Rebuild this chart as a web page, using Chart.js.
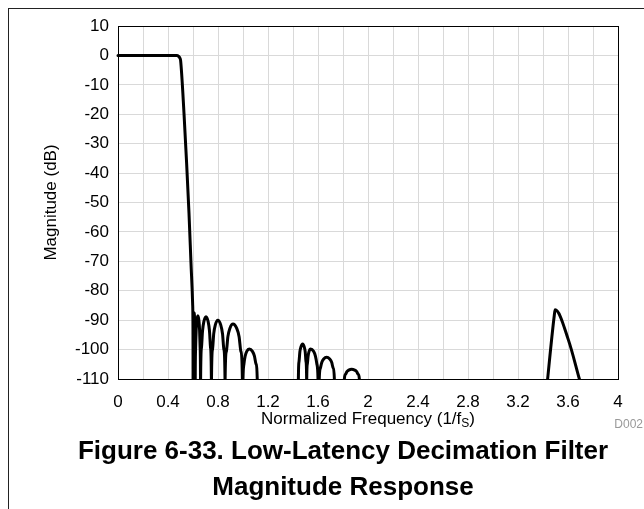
<!DOCTYPE html>
<html>
<head>
<meta charset="utf-8">
<script src="https://cdn.jsdelivr.net/npm/chart.js@4.4.0/dist/chart.umd.min.js"></script>
<style>
  html, body { margin: 0; padding: 0; background: #fff; }
  #wrap { position: relative; width: 644px; height: 509px; overflow: hidden; }
  #frame { position: absolute; left: 8px; top: 8px; width: 700px; height: 600px;
           border-top: 1px solid #222; border-left: 1px solid #222; }
  #canvas { position: absolute; left: 0; top: 0; }
</style>
</head>
<body>
<div id="wrap">
  <div id="frame"></div>
  <canvas id="canvas" width="644" height="509"></canvas>
</div>
<script>
// normalized frequency (1/fS) and magnitude (dB); values below -110 fall off the plot
let passFreq = [0, 0.2, 0.47, 0.485, 0.495, 0.501, 0.528, 0.549, 0.568, 0.584, 0.597, 0.600, 0.6012];
let passMag  = [0, 0, 0, -0.3, -0.9, -1.8, -19.7, -36.7, -53.7, -70.7, -84.3, -95, -130];

let lobeFreq1 = [0.602, 0.604, 0.609, 0.614, 0.616, 0.617,
  0.618, 0.6212, 0.6254, 0.6306, 0.639, 0.6474, 0.6527, 0.6569, 0.660, 0.6605,
  0.661, 0.6675, 0.6761, 0.6868, 0.704, 0.7212, 0.732, 0.7406, 0.747, 0.7475,
  0.748, 0.7557, 0.7659, 0.7786, 0.799, 0.8218, 0.8361, 0.8475, 0.856, 0.8565,
  0.857, 0.8665, 0.8791, 0.8948, 0.920, 0.950, 0.9688, 0.9838, 0.995, 0.9955,
  1.000, 1.0075, 1.0175, 1.030, 1.050, 1.0756, 1.0916, 1.1044, 1.114, 1.115];
let lobeMag1 = [-110, -94, -87.5, -94, -110, -130,
  -110, -99.3, -93.4, -90.2, -88.5, -90.2, -93.4, -99.3, -110, -130,
  -110, -99.4, -93.7, -90.5, -88.8, -90.5, -93.7, -99.4, -110, -130,
  -110, -100, -94.6, -91.6, -90, -91.6, -94.6, -100, -110, -130,
  -110, -100.7, -95.6, -92.8, -91.3, -92.8, -95.6, -100.7, -110, -130,
  -110, -104.9, -102.2, -100.6, -99.8, -100.6, -102.2, -104.9, -110, -130];

let lobeFreq2 = [1.442,
  1.443, 1.4481, 1.4549, 1.4634, 1.477, 1.4898, 1.4978, 1.5042, 1.509, 1.5095,
  1.510, 1.5147, 1.5209, 1.5286, 1.541, 1.5646, 1.5794, 1.591, 1.600, 1.605,
  1.610, 1.6189, 1.6307, 1.6454, 1.669, 1.6938, 1.7093, 1.7217, 1.731, 1.732,
  1.810,
  1.811, 1.8197, 1.8313, 1.8458, 1.869, 1.8938, 1.9093, 1.9217, 1.931, 1.932];
let lobeMag2 = [-130,
  -110, -104.1, -100.8, -99.1, -98.1, -99.1, -100.8, -104.1, -110, -130,
  -110, -104.9, -102.2, -100.6, -99.8, -100.6, -102.2, -104.9, -110, -130,
  -110, -106.3, -104.3, -103.2, -102.6, -103.2, -104.3, -106.3, -110, -130,
  -130,
  -110, -108.4, -107.5, -107.0, -106.7, -107.0, -107.5, -108.4, -110, -130];

let imageFreq = [3.40, 3.425, 3.437, 3.49, 3.497, 3.603, 3.691, 3.72, 3.80, 4];
let imageMag  = [-130, -115.3, -110, -88.5, -86.5, -96.7, -110, -114.4, -130, -130];

let xTickLabels = ['0', '0.4', '0.8', '1.2', '1.6', '2', '2.4', '2.8', '3.2', '3.6', '4'];

let allFreq = passFreq.concat(lobeFreq1, lobeFreq2, imageFreq);
let allMag = passMag.concat(lobeMag1, lobeMag2, imageMag);
let points = allFreq.map((f, i) => ({x: f, y: allMag[i]}));

const FONT = '"Liberation Sans", Arial, sans-serif';
Chart.defaults.font.family = FONT;
Chart.defaults.color = '#000';

const extras = {
  id: 'extras',
  afterDraw(chart) {
    const ctx = chart.ctx;
    const a = chart.chartArea;
    ctx.save();
    // plot box
    ctx.strokeStyle = '#000';
    ctx.lineWidth = 1;
    ctx.strokeRect(Math.round(a.left) + 0.5, Math.round(a.top) + 0.5,
      Math.round(a.right - a.left), Math.round(a.bottom - a.top));

    // x axis title with subscript
    const cx = (a.left + a.right) / 2;
    const ty = 419;
    const main = 'Normalized Frequency (1/f';
    ctx.font = '17px ' + FONT;
    const w1 = ctx.measureText(main).width;
    const w3 = ctx.measureText(')').width;
    ctx.font = '12px ' + FONT;
    const w2 = ctx.measureText('S').width;
    let x0 = cx - (w1 + w2 + w3) / 2;
    ctx.fillStyle = '#000';
    ctx.textBaseline = 'middle';
    ctx.textAlign = 'left';
    ctx.font = '17px ' + FONT;
    ctx.fillText(main, x0, ty);
    ctx.font = '12px ' + FONT;
    ctx.fillText('S', x0 + w1, ty + 5);
    ctx.font = '17px ' + FONT;
    ctx.fillText(')', x0 + w1 + w2, ty);

    // figure id
    ctx.fillStyle = '#999';
    ctx.font = '12px ' + FONT;
    ctx.textAlign = 'right';
    ctx.fillText('D002', 643, 425);

    // caption
    ctx.fillStyle = '#000';
    ctx.textAlign = 'center';
    ctx.font = 'bold 26px ' + FONT;
    ctx.fillText('Figure 6-33. Low-Latency Decimation Filter', 343, 452);
    ctx.fillText('Magnitude Response', 343, 488);
    ctx.restore();
  }
};

let ctx = document.getElementById('canvas').getContext('2d');
new Chart(ctx, {
  type: 'scatter',
  data: {
    datasets: [{
      data: points,
      showLine: true,
      borderColor: '#000',
      borderWidth: 3,
      pointRadius: 0,
      pointHoverRadius: 0,
      cubicInterpolationMode: 'monotone',
      borderJoinStyle: 'round',
      borderCapStyle: 'round',
      clip: {left: 2, top: 2, right: 2, bottom: 0}
    }]
  },
  options: {
    responsive: false,
    animation: false,
    events: [],
    layout: { padding: { left: 0, top: 26, right: 26, bottom: 100 } },
    plugins: { legend: { display: false }, tooltip: { enabled: false } },
    scales: {
      x: {
        type: 'linear',
        min: 0,
        max: 4,
        afterFit: s => { s.height = 30; },
        border: { color: '#000', width: 1 },
        grid: { color: '#d9d9d9', lineWidth: 1, drawTicks: false },
        ticks: {
          stepSize: 0.2,
          autoSkip: false,
          maxRotation: 0,
          padding: 13,
          font: { size: 17 },
          callback: v => {
            const i = Math.round(v / 0.2);
            return i % 2 === 0 ? xTickLabels[i / 2] : '';
          }
        }
      },
      y: {
        min: -110,
        max: 10,
        afterFit: s => { s.width = 118; },
        border: { color: '#000', width: 1 },
        grid: { color: '#d9d9d9', lineWidth: 1, drawTicks: false },
        ticks: { stepSize: 10, padding: 9, font: { size: 17 } },
        title: {
          display: true,
          text: 'Magnitude (dB)',
          font: { size: 17 },
          padding: { top: 41, bottom: 0 }
        }
      }
    }
  },
  plugins: [extras]
});
</script>
</body>
</html>
